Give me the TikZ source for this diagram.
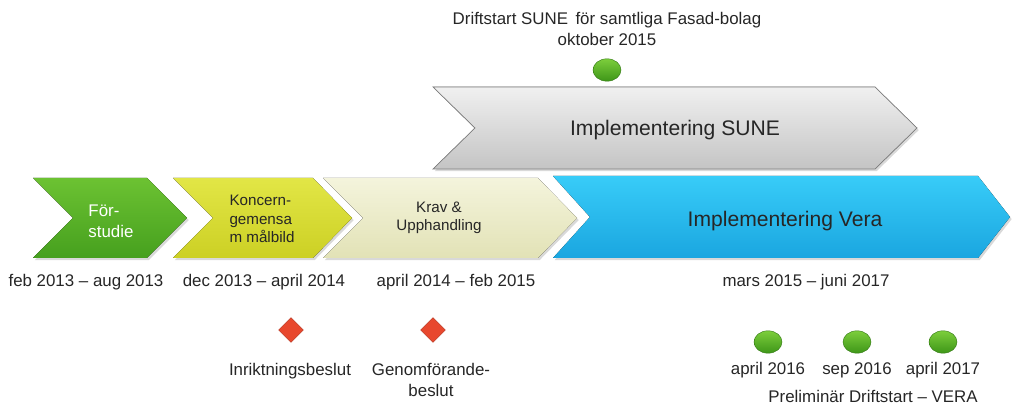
\documentclass[tikz,border=0pt]{standalone}
\usepackage{fontspec}
\setmainfont{Liberation Sans}
\usetikzlibrary{shapes.geometric,shadows}

\definecolor{gronA}{HTML}{6CC232}
\definecolor{gronB}{HTML}{46A01E}
\definecolor{gulA}{HTML}{E2E646}
\definecolor{gulB}{HTML}{CCD024}
\definecolor{beigeA}{HTML}{F4F4DC}
\definecolor{beigeB}{HTML}{E2E2B6}
\definecolor{blaA}{HTML}{38CCF8}
\definecolor{blaB}{HTML}{1AA6E0}
\definecolor{graA}{HTML}{F0F0F0}
\definecolor{graB}{HTML}{C4C4C4}
\definecolor{rodfarg}{HTML}{E8482E}
\definecolor{prickA}{HTML}{7CCE3C}
\definecolor{prickB}{HTML}{3E9618}

\tikzset{
  skugga/.style={drop shadow={opacity=0.3,shadow xshift=1.2pt,shadow yshift=-1.5pt}},
  txt/.style={font=\fontsize{12}{14.5}\selectfont, text=black!85, inner sep=0pt},
  rubrik/.style={font=\fontsize{10.8}{13.2}\selectfont, text=black!85, inner sep=0pt},
  stor/.style={font=\fontsize{15}{18}\selectfont, text=black!85, inner sep=0pt},
  prick/.style={ellipse, minimum width=0.7cm, minimum height=0.56cm, inner sep=0pt,
    top color=prickA, bottom color=prickB, draw=prickB!80!black, line width=0.3pt},
  beslut/.style={diamond, minimum size=0.62cm, inner sep=0pt, fill=rodfarg,
    draw=rodfarg!75!black, line width=0.3pt}
}

\begin{document}
\begin{tikzpicture}[x=0.025cm,y=-0.025cm]
\useasboundingbox (0,0) rectangle (1014,406);

% chevrons
\fill[skugga, top color=graA, bottom color=graB, draw=black!50, line width=0.5pt]
  (433,87) -- (875,87) -- (917,128) -- (875,169) -- (433,169) -- (475,128) -- cycle;
\fill[skugga, top color=gronA, bottom color=gronB]
  (33,178) -- (147,178) -- (187,218) -- (147,258) -- (33,258) -- (73,218) -- cycle;
\fill[skugga, top color=gulA, bottom color=gulB]
  (173,178) -- (313,178) -- (352,218) -- (313,258) -- (173,258) -- (213,218) -- cycle;
\fill[skugga, top color=beigeA, bottom color=beigeB]
  (323,178) -- (538,178) -- (577,218) -- (538,258) -- (323,258) -- (363,218) -- cycle;
\fill[skugga, top color=blaA, bottom color=blaB]
  (553,176) -- (978,176) -- (1010,217) -- (978,258) -- (553,258) -- (590,217) -- cycle;

\node[rubrik, text=white, align=left, font=\fontsize{12}{15}\selectfont] (fs) at (111,221) {För-\\studie};
\node[rubrik, align=left] (km) at (262,219) {Koncern-\\gemensa\\m målbild};
\node[rubrik, align=center] (ku) at (439,218) {Krav \&\\Upphandling};
\node[stor] (is) at (675,130) {Implementering SUNE};
\node[stor] (iv) at (785,221) {Implementering Vera};

% perioder
\node[txt] (d1) at (86,282) {feb 2013 – aug 2013};
\node[txt] (d2) at (264,282) {dec 2013 – april 2014};
\node[txt] (d3) at (456,282) {april 2014 – feb 2015};
\node[txt] (d4) at (806,282) {mars 2015 – juni 2017};

% driftstart SUNE
\node[txt, align=center] (ds) at (607,29) {Driftstart SUNE\, för samtliga Fasad-bolag\\oktober 2015};
\node[prick] (p0) at (607,70) {};

% beslut
\node[beslut] (b1) at (291,330) {};
\node[beslut] (b2) at (433,330) {};
\node[txt] (t1) at (290,371) {Inriktningsbeslut};
\node[txt, align=center] (t2) at (431,380) {Genomförande-\\beslut};

% driftstart Vera
\foreach \n/\x/\d in {1/768/april 2016, 2/857/sep 2016, 3/943/april 2017}{
  \node[prick] (p\n) at (\x,342) {};
  \node[txt] (v\n) at (\x,370) {\d};
}
\node[txt] (pd) at (873,396) {Preliminär Driftstart – VERA};
\end{tikzpicture}
\end{document}
